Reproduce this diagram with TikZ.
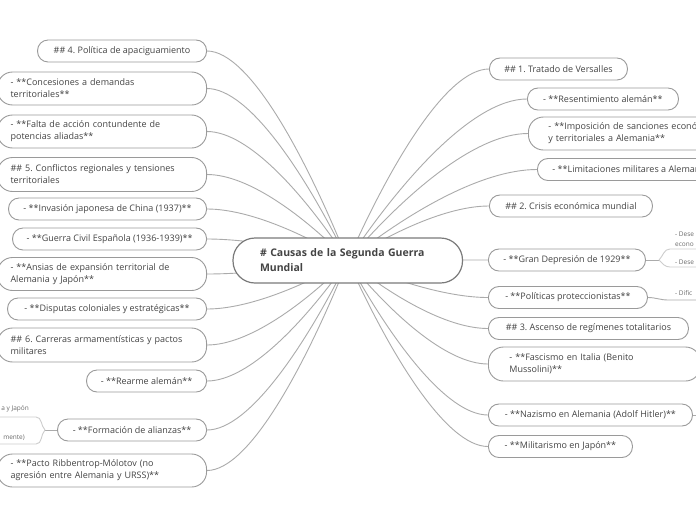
\documentclass[tikz,border=0pt]{standalone}
\usepackage{fontspec}
\setmainfont{Open Sans}
\usetikzlibrary{calc,backgrounds}
\frenchspacing
\definecolor{txt}{HTML}{444444}
\definecolor{bord}{HTML}{9A9A9A}
\definecolor{rootbord}{HTML}{7A7A7A}
\definecolor{lnk}{HTML}{ABABAB}
\definecolor{sublnk}{HTML}{CDCDCD}
\definecolor{subtxt}{HTML}{6A6A6A}
\newcommand\mmconn[2]{\draw[conn] let \p1=(#1), \p2=(#2) in (\p1) .. controls ({\x1+0.3*(\x2-\x1)},{\y1+0.5*(\y2-\y1)}) and ({\x1+0.7*(\x2-\x1)},\y2) .. (\p2);}
\begin{document}
\begin{tikzpicture}[x=1pt,y=-1pt,
  base/.style={draw=bord, line width=0.9pt, fill=white, text=txt, font=\fontsize{9}{12}\selectfont, inner sep=0pt},
  one/.style={base, rounded corners=10.5pt, minimum height=22pt, align=center},
  two/.style={base, rounded corners=15pt, minimum height=33pt, align=left, inner xsep=13pt, text width=183pt},
  rootbox/.style={draw=rootbord, line width=1.2pt, fill=white, text=txt, rounded corners=22pt, minimum height=45pt, inner ysep=0pt, inner xsep=27pt, text width=175.5pt, align=left, font=\bfseries\fontsize{10.5}{15}\selectfont},
  conn/.style={draw=lnk, line width=0.9pt},
  subconn/.style={draw=sublnk, line width=0.9pt},
  subtext/.style={text=subtxt, font=\fontsize{6.5}{10}\selectfont, inner sep=0pt, align=left}
]
\useasboundingbox (0,0) rectangle (696,520);

% root
\node[rootbox] (root) at (347.75,260.5) {\# Causas de la Segunda Guerra\\Mundial};

% left side
\node[one, anchor=east, minimum width=169pt] (l1) at (207,51) {\#\# 4. Política de apaciguamiento};
\node[two, anchor=east] (l2) at (207,88.5) {- **Concesiones a demandas\\territoriales**};
\node[two, anchor=east] (l3) at (207,131.5) {- **Falta de acción contundente de\\potencias aliadas**};
\node[two, anchor=east, minimum height=34pt] (l4) at (207,174.5) {\#\# 5. Conflictos regionales y tensiones\\territoriales};
\node[one, anchor=east, minimum width=198pt] (l5) at (207,209) {- **Invasión japonesa de China (1937)**};
\node[one, anchor=east, minimum width=194pt] (l6) at (207,239) {- **Guerra Civil Española (1936-1939)**};
\node[two, anchor=east] (l7) at (207,274) {- **Ansias de expansión territorial de\\Alemania y Japón**};
\node[one, anchor=east, minimum width=199pt] (l8) at (207,309) {- **Disputas coloniales y estratégicas**};
\node[two, anchor=east, minimum height=34pt] (l9) at (207,345) {\#\# 6. Carreras armamentísticas y pactos\\militares};
\node[one, anchor=east, minimum width=120pt] (l10) at (207,381) {- **Rearme alemán**};
\node[one, anchor=east, minimum width=149pt] (l11) at (207,430) {- **Formación de alianzas**};
\node[two, anchor=east] (l12) at (207,470.5) {- **Pacto Ribbentrop-Mólotov (no\\agresión entre Alemania y URSS)**};

% right side
\node[one, anchor=west, minimum width=138pt] (r1) at (489,69) {\#\# 1. Tratado de Versalles};
\node[one, anchor=west, minimum width=151pt] (r2) at (527,99) {- **Resentimiento alemán**};
\node[two, anchor=west, inner xsep=20pt, text width=210pt] (r3) at (528,133.5) {- **Imposición de sanciones económicas\\y territoriales a Alemania**};
\node[base, rounded corners=10.5pt, minimum height=22pt, inner xsep=15pt, anchor=west] (r4) at (537,169.5) {- **Limitaciones militares a Alemania**};
\node[one, anchor=west, minimum width=163pt] (r5) at (489,206) {\#\# 2. Crisis económica mundial};
\node[one, anchor=west, minimum width=157pt] (r6) at (488,260) {- **Gran Depresión de 1929**};
\node[one, anchor=west, minimum width=159pt] (r7) at (488,297.5) {- **Políticas proteccionistas**};
\node[one, anchor=west, minimum width=200pt] (r8) at (488,328.5) {\#\# 3. Ascenso de regímenes totalitarios};
\node[two, anchor=west, inner xsep=21pt, text width=170pt, minimum height=34pt] (r9) at (488,364) {- **Fascismo en Italia (Benito\\Mussolini)**};
\node[one, anchor=west, minimum width=204pt] (r10) at (488,415) {- **Nazismo en Alemania (Adolf Hitler)**};
\node[one, anchor=west, minimum width=144pt] (r11) at (488,446.5) {- **Militarismo en Japón**};

% minor branches (cut by the page edge)
\coordinate (j1) at (659,260);
\coordinate (ua) at (670,249);
\coordinate (ub) at (700,249);
\coordinate (la) at (670,267);
\coordinate (lb) at (700,267);
\coordinate (pa) at (668,300);
\coordinate (pb) at (700,300);
\coordinate (nz) at (700,415);
\coordinate (j2) at (45,430);
\coordinate (va) at (36,417);
\coordinate (vb) at (-5,417);
\coordinate (wa) at (36,444);
\coordinate (wb) at (-5,444);
\node[subtext, anchor=west] (s1) at (675,239) {- Dese\\econo};
\node[subtext, anchor=west] (s2) at (675,262) {- Dese};
\node[subtext, anchor=west] (s3) at (675,293) {- Dific};
\node[subtext, anchor=east] (s4) at (29,409) {a y Japón};
\node[subtext, anchor=east] (s5) at (25,438) {mente)};

\begin{pgfonlayer}{background}
\fill[white] (0,0) rectangle (696,520);
\foreach \nd in {l1,l2,l3,l4,l5,l6,l7,l8,l9,l10,l11,l12}{\mmconn{root.center}{\nd.east}}
\foreach \nd in {r1,r2,r3,r4,r5,r6,r7,r8,r9,r10,r11}{\mmconn{root.center}{\nd.west}}
\draw[conn] (r6.east) -- (j1);
\draw[subconn] (j1) to[out=45,in=180] (ua) -- (ub);
\draw[subconn] (j1) to[out=-45,in=180] (la) -- (lb);
\draw[conn] (r7.east) to[out=0,in=180] (pa) -- (pb);
\draw[conn] (r10.east) -- (nz);
\draw[conn] (l11.west) -- (j2);
\draw[subconn] (j2) to[out=135,in=0] (va) -- (vb);
\draw[subconn] (j2) to[out=-135,in=0] (wa) -- (wb);
\end{pgfonlayer}
\end{tikzpicture}
\end{document}
